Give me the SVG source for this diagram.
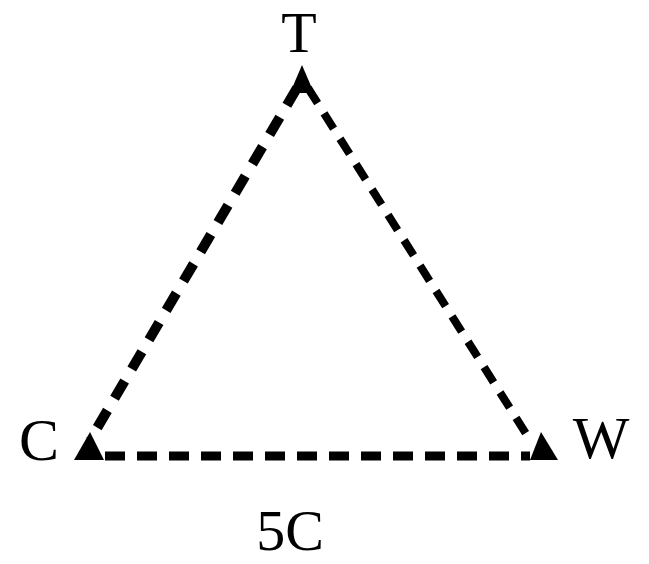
<svg xmlns="http://www.w3.org/2000/svg" width="649" height="564" viewBox="0 0 649 564">
<style>
.lbl{font-family:"Liberation Serif","Times New Roman",serif;fill:#000}
.edge{fill:none;stroke:#000;stroke-width:9;stroke-dasharray:20 14}
.tip{fill:#000}
</style>
<rect width="649" height="564" fill="#fff"/>
<g id="connectors">
<line class="edge" x1="297" y1="88" x2="90" y2="440" style="stroke-width:10"/>
<line class="edge" x1="308" y1="88" x2="530" y2="440" style="stroke-width:8;stroke-dasharray:18 12"/>
<line class="edge" x1="105" y1="456" x2="530" y2="456" style="stroke-dasharray:20 12"/>
</g>
<g id="node-T">
<polygon class="tip" points="302,65 314,93 290,93"/>
<text class="lbl" x="299" y="52" font-size="58" text-anchor="middle">T</text>
</g>
<g id="node-C">
<polygon class="tip" points="90,432 104,460 74,460"/>
<text class="lbl" x="39" y="460" font-size="60" text-anchor="middle">C</text>
</g>
<g id="node-W">
<polygon class="tip" points="541,432 558,460 530,460"/>
<text class="lbl" x="601" y="458" font-size="60" text-anchor="middle">W</text>
</g>
<g id="label-5C">
<text class="lbl" x="290" y="550" font-size="58" text-anchor="middle">5C</text>
</g>
</svg>
